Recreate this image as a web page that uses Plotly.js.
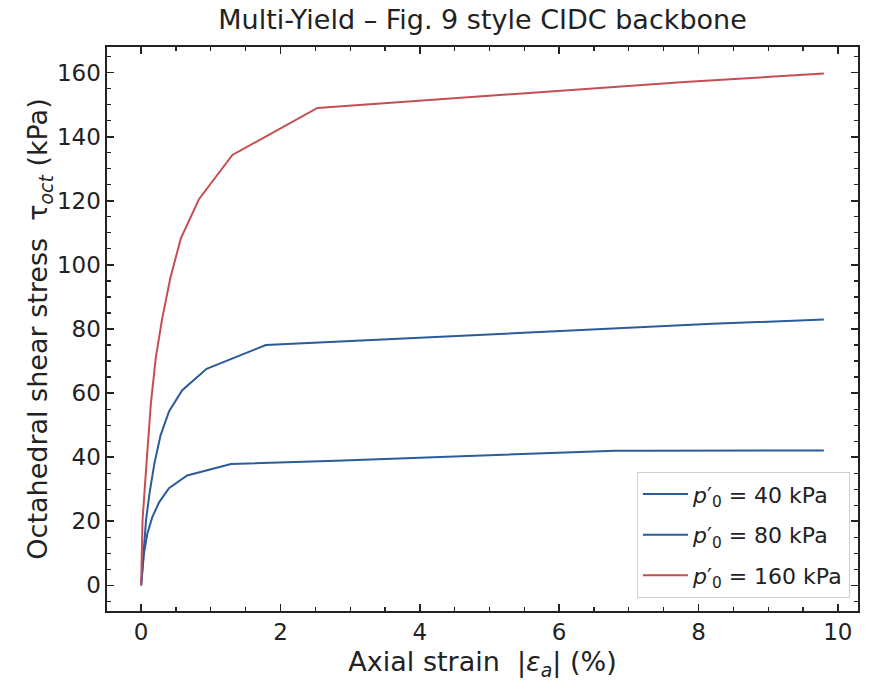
<!DOCTYPE html>
<html>
<head>
<meta charset="utf-8">
<script src="https://cdn.plot.ly/plotly-3.0.1.min.js"></script>
<style>html,body{margin:0;padding:0;background:#fff;}#chart{width:890px;height:691px;}</style>
</head>
<body>
<div id="chart"></div>
<script>
// Series data (axial strain %, tau_oct kPa)
const strain40 = [0, 0.015, 0.04, 0.09, 0.16, 0.26, 0.40, 0.66, 1.29, 2.8, 6.8, 7.2, 9.8];
const tau40    = [0, 5, 9.9, 16.2, 21.3, 26.0, 30.3, 34.3, 37.9, 38.9, 42.0, 42.0, 42.1];

const strain80 = [0, 0.03, 0.07, 0.12, 0.19, 0.28, 0.40, 0.59, 0.94, 1.79, 8.2, 9.8];
const tau80    = [0, 10, 20.3, 28.7, 38.0, 46.9, 54.3, 60.9, 67.6, 75.0, 81.6, 83.0];

const strain160 = [0, 0.02, 0.08, 0.14, 0.21, 0.30, 0.42, 0.57, 0.83, 1.31, 2.53, 6.8, 7.8, 9.8];
const tau160    = [0, 20.3, 39.0, 56.8, 71.0, 83.0, 96.0, 108.3, 120.5, 134.3, 149.0, 155.6, 157.1, 159.7];

const seriesNames = ["<i>p</i>′<sub>0</sub> = 40 kPa", "<i>p</i>′<sub>0</sub> = 80 kPa", "<i>p</i>′<sub>0</sub> = 160 kPa"];
const xTicks = [0, 2, 4, 6, 8, 10];
const yTicks = [0, 20, 40, 60, 80, 100, 120, 140, 160];

const blue = "#2b5b99";
const red = "#c44e52";
const font = "DejaVu Sans, sans-serif";

const traces = [
  {x: strain40, y: tau40, name: seriesNames[0], legendgroup: "a", mode: "lines", line: {color: blue, width: 2}},
  {x: strain80, y: tau80, name: seriesNames[1], legendgroup: "b", mode: "lines", line: {color: blue, width: 2}},
  {x: strain160, y: tau160, name: seriesNames[2], legendgroup: "c", mode: "lines", line: {color: red, width: 2}}
];

const axisCommon = {
  showgrid: false, zeroline: false,
  showline: true, linecolor: "#222", linewidth: 1.6, mirror: "allticks",
  ticks: "inside", ticklen: 7, tickwidth: 1.6, tickcolor: "#222",
  tickfont: {family: font, size: 23, color: "#222"},
};

const layout = {
  width: 890, height: 691,
  paper_bgcolor: "#fff", plot_bgcolor: "#fff",
  margin: {l: 107, r: 32, t: 47, b: 80},
  font: {family: font, color: "#222"},
  title: {text: "Multi-Yield – Fig. 9 style CIDC backbone", font: {family: font, size: 27, color: "#222"},
          xref: "paper", x: 0.5, xanchor: "center", y: 0.972, yanchor: "middle"},
  xaxis: Object.assign({}, axisCommon, {
    range: [-0.49, 10.29], tickvals: xTicks, ticktext: xTicks.map(String),
    minor: {dtick: 0.5, ticks: "inside", ticklen: 4, tickwidth: 1.2, tickcolor: "#222"},
    title: {text: "Axial strain  |<i>ε<sub>a</sub></i>| (%)", font: {family: font, size: 27, color: "#222"}, standoff: 8}
  }),
  yaxis: Object.assign({}, axisCommon, {
    range: [-8, 168], tickvals: yTicks, ticktext: yTicks.map(String),
    minor: {dtick: 5, ticks: "inside", ticklen: 4, tickwidth: 1.2, tickcolor: "#222"},
    title: {text: "Octahedral shear stress  τ<sub><i>oct</i></sub> (kPa)", font: {family: font, size: 27, color: "#222"}, standoff: 0}
  }),
  legend: {
    x: 0.989, y: 0.023, xanchor: "right", yanchor: "bottom",
    bgcolor: "rgba(255,255,255,0.9)", bordercolor: "#d0d0d0", borderwidth: 1.2,
    font: {family: font, size: 22, color: "#222"},
    itemwidth: 45, tracegroupgap: 9
  },
  showlegend: true
};

Plotly.newPlot("chart", traces, layout, {displayModeBar: false, staticPlot: true});
</script>
</body>
</html>
